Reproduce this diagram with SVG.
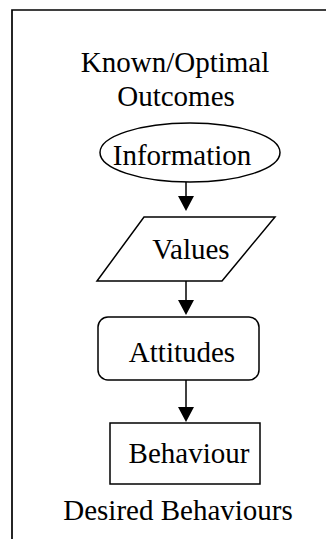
<svg xmlns="http://www.w3.org/2000/svg" width="326" height="539" viewBox="0 0 326 539">
  <style>
    .frame { fill: none; stroke: #000; stroke-width: 1.7; }
    .shape { fill: #fff; stroke: #000; stroke-width: 1.5; }
    .conn { fill: none; stroke: #000; stroke-width: 1.5; }
    .label { font-family: "Liberation Serif", "Times New Roman", serif; font-size: 29px; fill: #000; text-anchor: middle; }
  </style>

  <!-- open frame: top and left edges -->
  <path class="frame" d="M12,539 L12,10 L326,10"/>

  <text class="label" x="175" y="72">Known/Optimal</text>
  <text class="label" x="176" y="106">Outcomes</text>

  <g id="connectors">
    <path class="conn" d="M186,182 L186,196"/>
    <path d="M178,196 L194,196 L186,211 Z" fill="#000"/>
    <path class="conn" d="M186,281 L186,300"/>
    <path d="M178,300 L194,300 L186,315 Z" fill="#000"/>
    <path class="conn" d="M186,380 L186,407"/>
    <path d="M178,407 L194,407 L186,422 Z" fill="#000"/>
  </g>

  <g id="information">
    <ellipse class="shape" cx="190" cy="152.5" rx="90" ry="29.5"/>
    <text class="label" x="182" y="165">Information</text>
  </g>

  <g id="values">
    <polygon class="shape" points="144,217 275,217 222,281 97,281"/>
    <text class="label" x="191" y="259">Values</text>
  </g>

  <g id="attitudes">
    <rect class="shape" x="98" y="317" width="161" height="63" rx="10" ry="10"/>
    <text class="label" x="182" y="362">Attitudes</text>
  </g>

  <g id="behaviour">
    <rect class="shape" x="110" y="423" width="150" height="61"/>
    <text class="label" x="189" y="463">Behaviour</text>
  </g>

  <text class="label" x="178" y="520">Desired Behaviours</text>
</svg>
